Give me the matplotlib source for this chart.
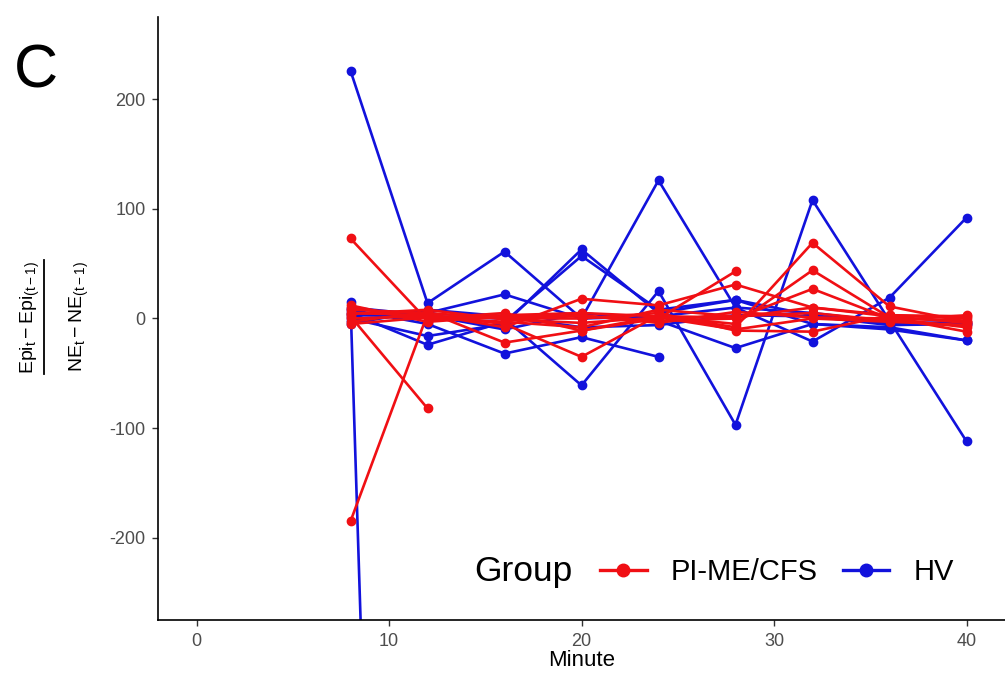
import numpy as np
import matplotlib
matplotlib.use("Agg")
import matplotlib.pyplot as plt
from matplotlib.lines import Line2D

plt.rcParams["font.family"] = ["Liberation Sans", "DejaVu Sans"]
plt.rcParams["mathtext.fontset"] = "custom"
plt.rcParams["mathtext.rm"] = "Liberation Sans"
plt.rcParams["mathtext.it"] = "Liberation Sans:italic"
plt.rcParams["mathtext.sf"] = "Liberation Sans"
plt.rcParams["axes.unicode_minus"] = False

nan = np.nan
minutes = [8, 12, 16, 20, 24, 28, 32, 36, 40]

# PI-ME/CFS participants: change in Epi relative to change in NE
pi_me_cfs = [
    [73, -2, 3, 5, 2, 1, 10, 3, 0],
    [-185, 4, -8, 18, 12, 31, 10, 2, -4],
    [2, -82, nan, nan, nan, nan, nan, nan, nan],
    [5, 3, -5, -35, 3, -8, 69, 11, -3],
    [-3, 6, -22, -11, 0, 43, nan, nan, nan],
    [10, 0, 5, -11, 2, -5, 44, 1, -12],
    [0, 2, 1, 2, -2, 0, 27, 0, -8],
    [8, 5, 0, 0, 5, -11, -12, 3, 2],
    [-5, 1, -3, -8, 8, 2, 5, -2, 3],
    [12, -3, 2, 3, -4, 6, 1, 0, -2],
    [4, 8, -1, -4, 1, -10, 0, -3, -6],
]

# Healthy volunteers
hv = [
    [226, 14, 61, 0, 2, 10, 5, -3, -5],
    [15, -2200, nan, nan, nan, nan, nan, nan, nan],
    [0, -16, -5, 63, 5, 17, -5, -8, -20],
    [5, -24, -3, 57, 8, 17, 3, -5, -3],
    [3, 2, 0, -61, 25, -97, 108, -2, -112],
    [-2, 5, 22, 0, 126, 10, -21, 19, 92],
    [8, -5, -32, -17, -35, nan, nan, nan, nan],
    [10, 3, -10, 5, -2, -27, -5, -10, -20],
    [-5, 8, 2, -8, -6, 3, 2, -6, -5],
]

group_names = ["PI-ME/CFS", "HV"]
group_colors = ["#F00F14", "#1212DC"]

x_ticks = [0, 10, 20, 30, 40]
y_ticks = [-200, -100, 0, 100, 200]

W, H = 1005, 673
fig = plt.figure(figsize=(W / 100, H / 100), dpi=100)
ax = fig.add_axes([158 / W, 1 - 620 / H, 1 - 158 / W, (620 - 17) / H])

line_kw = dict(lw=1.9, marker="o", markersize=6, solid_capstyle="round")
for series in hv:
    ax.plot(minutes, series, color=group_colors[1], **line_kw)
for series in pi_me_cfs:
    ax.plot(minutes, series, color=group_colors[0], **line_kw)

ax.set_xlim(-2, 42)
ax.set_ylim(-275, 275)
ax.set_xticks(x_ticks)
ax.set_yticks(y_ticks)
ax.tick_params(axis="both", length=4, width=1, color="#333333",
               labelcolor="#4D4D4D", labelsize=13, pad=5)
for side in ("top", "right"):
    ax.spines[side].set_visible(False)
for side in ("left", "bottom"):
    ax.spines[side].set_linewidth(1.2)
    ax.spines[side].set_color("black")

ax.set_xlabel("Minute", fontsize=16, labelpad=0)

# y-axis label: ratio of successive differences, drawn as a stacked fraction
ylab_y = 1 - 317 / H
fig.text(30 / W, ylab_y, r"$\mathrm{Epi}_{\mathrm{t}}-\mathrm{Epi}_{\mathrm{(t-1)}}$",
         rotation=90, ha="center", va="center", fontsize=14)
fig.add_artist(Line2D([44 / W, 44 / W], [1 - 260 / H, 1 - 374 / H],
                      transform=fig.transFigure, color="black", lw=1.3))
fig.text(79 / W, ylab_y, r"$\mathrm{NE}_{\mathrm{t}}-\mathrm{NE}_{\mathrm{(t-1)}}$",
         rotation=90, ha="center", va="center", fontsize=14)

fig.text(14 / W, 1 - 72 / H, "C", fontsize=44, ha="left", va="center")

# Legend laid out horizontally with its title on the left
fig.text(474 / W, 1 - 572 / H, "Group", fontsize=25.5, ha="left", va="center")
handles = [Line2D([0], [0], color=c, lw=2.4, marker="o", markersize=9)
           for c in group_colors]
fig.legend(handles, group_names, ncol=2, frameon=False, fontsize=21,
           loc="center left", bbox_to_anchor=(600 / W, 1 - 572 / H),
           borderpad=0, borderaxespad=0, handlelength=1.6,
           handletextpad=0.82, columnspacing=0.86)

fig.savefig("out.png", dpi=100, facecolor="white")
